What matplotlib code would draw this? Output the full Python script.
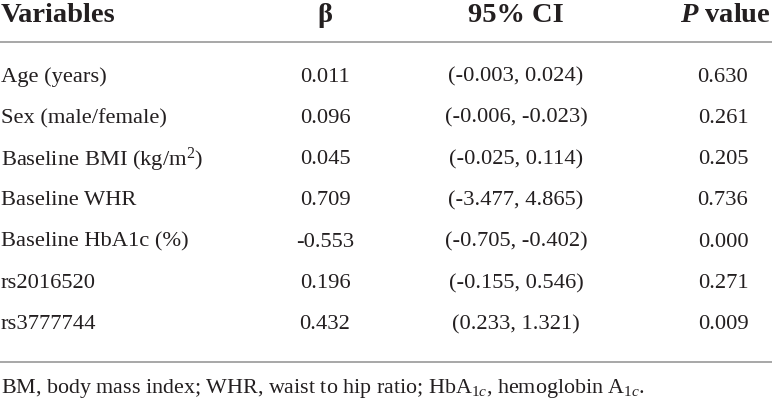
import matplotlib.pyplot as plt

variables = ["Age (years)", "Sex (male/female)", "Baseline BMI (kg/m$^2$)",
             "Baseline WHR", "Baseline HbA1c (%)", "rs2016520", "rs3777744"]
beta = ["0.011", "0.096", "0.045", "0.709", "-0.553", "0.196", "0.432"]
ci = ["(-0.003, 0.024)", "(-0.006, -0.023)", "(-0.025, 0.114)", "(-3.477, 4.865)",
      "(-0.705, -0.402)", "(-0.155, 0.546)", "(0.233, 1.321)"]
pvals = ["0.630", "0.261", "0.205", "0.736", "0.000", "0.271", "0.009"]
headers = ["Variables", "β", "95% CI", "$\\mathbfit{P}$ value"]
footnote = "BM, body mass index; WHR, waist to hip ratio; HbA$_{1c}$, hemoglobin A$_{1c}$."

W, H = 772, 400
plt.rcParams['font.family'] = ['Liberation Serif', 'DejaVu Serif']
plt.rcParams['mathtext.fontset'] = 'custom'
plt.rcParams['mathtext.rm'] = 'Liberation Serif'
plt.rcParams['mathtext.it'] = 'Liberation Serif:italic'
plt.rcParams['mathtext.bfit'] = 'Liberation Serif:italic:bold'

fig = plt.figure(figsize=(W / 100, H / 100), dpi=100)
ax = fig.add_axes([0, 0, 1, 1])
ax.set_xlim(0, W)
ax.set_ylim(H, 0)
ax.axis("off")

txt = "#231f20"
line_c = "#a0a0a0"
hs = 20.5
bs = 16.2

# header
ax.text(1, 16, headers[0], fontsize=hs, fontweight="bold", color=txt, va="center", ha="left")
ax.text(325, 16, headers[1], fontsize=hs, fontweight="bold", color=txt, va="center", ha="center")
ax.text(516, 16, headers[2], fontsize=hs, fontweight="bold", color=txt, va="center", ha="center")
ax.text(771, 16, headers[3], fontsize=hs, fontweight="bold", color=txt, va="center", ha="right")
ax.plot([0, W], [42, 42], color=line_c, lw=1.3)

y0, dy = 77, 41.3
for i in range(len(variables)):
    y = y0 + i * dy
    ax.text(1, y, variables[i], fontsize=bs, color=txt, va="center", ha="left")
    ax.text(325, y, beta[i], fontsize=bs, color=txt, va="center", ha="center")
    ax.text(516, y, ci[i], fontsize=bs, color=txt, va="center", ha="center")
    ax.text(723, y, pvals[i], fontsize=bs, color=txt, va="center", ha="center")

ax.plot([0, W], [362, 362], color=line_c, lw=1.3)
ax.text(1, 388, footnote, fontsize=15.8, color=txt, va="center", ha="left")

fig.savefig("out.png", dpi=100)
